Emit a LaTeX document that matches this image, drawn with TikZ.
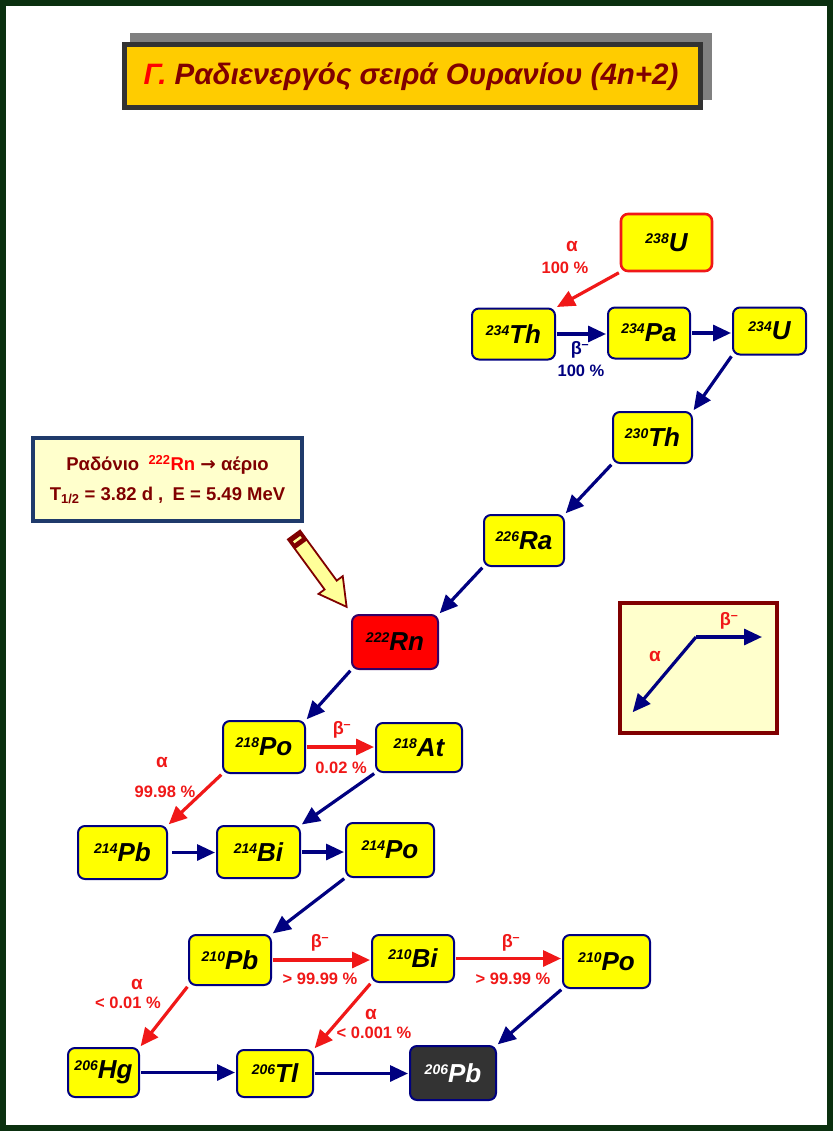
\documentclass[tikz,border=0pt]{standalone}
\usepackage{fontspec}
\setmainfont{Liberation Sans}
\newfontfamily\dejavu{DejaVu Sans}
\usetikzlibrary{arrows.meta}
\definecolor{navy}{HTML}{000080}
\definecolor{myred}{HTML}{F01818}
\definecolor{dred}{HTML}{800000}
\definecolor{framegreen}{HTML}{0B300F}
\definecolor{gold}{HTML}{FFCC00}
\definecolor{cream}{HTML}{FFFFCC}
\definecolor{boxblue}{HTML}{1F3A6B}
\definecolor{ylw}{HTML}{FFFF00}
\definecolor{pbgray}{HTML}{333333}
\definecolor{shadowgray}{HTML}{808080}
\definecolor{rnborder}{HTML}{330066}
\definecolor{pencilfill}{HTML}{FFFF99}
\newcommand\nucl[2]{\raisebox{8pt}{\fontsize{14}{14}\selectfont #1}\fontsize{26}{26}\selectfont #2}
\newcommand\gal{{\fontsize{19}{19}\selectfont α}}
\newcommand\gbe{{\fontsize{18}{18}\selectfont β\textsuperscript{–}}}
\begin{document}
\begin{tikzpicture}[x=1pt,y=-1pt,
  nuc/.style={draw=navy, line width=2pt, fill=ylw, rounded corners=7pt, inner sep=0pt,
    font=\bfseries\itshape, text=black},
  bn/.style={draw=navy, line width=3.2pt, -{Triangle[length=18pt,width=16pt]},
    shorten <=1pt, shorten >=1pt},
  rn/.style={bn, draw=myred},
  lab/.style={font=\bfseries\fontsize{16.5}{17}\selectfont, inner sep=0pt},
  rlab/.style={lab, text=myred},
  blab/.style={lab, text=navy}]
\useasboundingbox (0,0) rectangle (833,1131);
\fill[white] (0,0) rectangle (833,1131);
\draw[framegreen, line width=6pt] (3,3) rectangle (830,1128);

% title
\fill[shadowgray] (130,33) rectangle (712,100);
\node[draw=pbgray, fill=gold, line width=5pt, minimum width=576pt, minimum height=63pt, inner sep=0pt]
  (titlebox) at (412,76.5) {};
\node (title) at (411,77) {\fontsize{29.5}{30}\selectfont\bfseries\itshape\textcolor{red}{Γ.} \textcolor{dred}{Ραδιενεργός σειρά Ουρανίου (4n+2)}};

% info box
\node[draw=boxblue, fill=cream, line width=3.5pt, minimum width=269pt, minimum height=83pt, inner sep=0pt,
  align=center, text=dred, font=\bfseries\fontsize{18.5}{30}\selectfont]
  (info) at (167.5,479.5) {Ραδόνιο\enspace\textcolor{red}{\textsuperscript{222}Rn} {\dejavu\bfseries →} αέριο\\
  T\textsubscript{1/2} = 3.82 d ,\enspace E = 5.49 MeV};

% pencil arrow
\begin{scope}[shift={(294,535)}, x={(0.591pt,-0.807pt)}, y={(-0.807pt,-0.591pt)}]
  \draw[dred, fill=pencilfill, line width=1.8pt, line join=miter]
    (0,7.5) -- (62,7.5) -- (62,15) -- (89,0) -- (62,-15) -- (62,-7.5) -- (0,-7.5) -- cycle;
  \fill[dred] (0,-7.5) -- (12,-7.5) -- (12,7.5) -- (0,7.5) -- cycle;
  \fill[pencilfill] (4.5,-4.5) -- (7,-4.5) -- (7,4.5) -- (4.5,4.5) -- cycle;
\end{scope}

% legend
\node[draw=dred, fill=cream, line width=4pt, minimum width=157pt, minimum height=130pt, inner sep=0pt]
  (legend) at (698.5,668) {};
\coordinate (lc) at (696,637);
\coordinate (la) at (632,713);
\coordinate (lb) at (763,637);
\draw[bn, shorten <=0pt] (lc) -- (lb);
\draw[bn, shorten <=0pt] (lc) -- (la);
\node[rlab] (legA) at (655,656) {\gal};
\node[rlab] (legB) at (729,621) {\gbe};

% nuclides
\node[nuc, draw=myred, line width=2.6pt, minimum width=91pt, minimum height=57pt] (U238) at (666.5,242.5) {\nucl{238}{U}};
\node[nuc, minimum width=83pt, minimum height=51pt] (Th234) at (513.5,334) {\nucl{234}{Th}};
\node[nuc, minimum width=82pt, minimum height=51pt] (Pa234) at (649,333) {\nucl{234}{Pa}};
\node[nuc, minimum width=73pt, minimum height=47pt] (U234) at (769.5,331) {\nucl{234}{U}};
\node[nuc, minimum width=79pt, minimum height=51pt] (Th230) at (652.5,437.5) {\nucl{230}{Th}};
\node[nuc, minimum width=80pt, minimum height=51pt] (Ra226) at (524,540.5) {\nucl{226}{Ra}};
\node[nuc, fill=red, draw=rnborder, minimum width=86pt, minimum height=54pt] (Rn222) at (395,642) {\nucl{222}{Rn}};
\node[nuc, minimum width=82pt, minimum height=52pt] (Po218) at (264,747) {\nucl{218}{Po}};
\node[nuc, minimum width=86pt, minimum height=49pt] (At218) at (419,747.5) {\nucl{218}{At}};
\node[nuc, minimum width=89pt, minimum height=53pt] (Pb214) at (122.5,852.5) {\nucl{214}{Pb}};
\node[nuc, minimum width=83pt, minimum height=52pt] (Bi214) at (258.5,852) {\nucl{214}{Bi}};
\node[nuc, minimum width=88pt, minimum height=54pt] (Po214) at (390,850) {\nucl{214}{Po}};
\node[nuc, minimum width=82pt, minimum height=50pt] (Pb210) at (230,960) {\nucl{210}{Pb}};
\node[nuc, minimum width=82pt, minimum height=47pt] (Bi210) at (413,958.5) {\nucl{210}{Bi}};
\node[nuc, minimum width=87pt, minimum height=53pt] (Po210) at (606.5,961.5) {\nucl{210}{Po}};
\node[nuc, minimum width=71pt, minimum height=49pt] (Hg206) at (103.5,1072.5) {\nucl{206}{Hg}};
\node[nuc, minimum width=76pt, minimum height=47pt] (Tl206) at (275,1073.5) {\nucl{206}{Tl}};
\node[nuc, fill=pbgray, text=white, minimum width=86pt, minimum height=54pt] (Pb206) at (453,1073) {\nucl{206}{Pb}};

% decays
\draw[rn] (U238.south west) -- (Th234.north east);
\node[rlab] (l1a) at (572,246) {\gal};
\node[rlab] (l1b) at (565,268) {100 \%};

\draw[bn] (Th234.east) -- (Th234.east -| Pa234.west);
\node[blab] (l2a) at (580,350) {\gbe};
\node[blab] (l2b) at (581,371) {100 \%};
\draw[bn] (Pa234.east) -- (Pa234.east -| U234.west);
\draw[bn] (U234.south west) -- (Th230.north east);
\draw[bn] (Th230.south west) -- (Ra226.north east);
\draw[bn] (Ra226.south west) -- (Rn222.north east);
\draw[bn] (Rn222.south west) -- (Po218.north east);

\draw[rn] (Po218.east) -- (Po218.east -| At218.west);
\node[rlab] (l3a) at (342,730) {\gbe};
\node[rlab] (l3b) at (341,768) {0.02 \%};
\draw[rn] (Po218.south west) -- (Pb214.north east);
\node[rlab] (l4a) at (162,762) {\gal};
\node[rlab] (l4b) at (165,792) {99.98 \%};
\draw[bn] (At218.south west) -- (Bi214.north east);
\draw[bn, shorten <=4pt] (Pb214.east) -- (Pb214.east -| Bi214.west);
\draw[bn] (Bi214.east) -- (Bi214.east -| Po214.west);
\draw[bn] (Po214.south west) -- (Pb210.north east);

\draw[rn] (Pb210.east) -- (Pb210.east -| Bi210.west);
\node[rlab] (l5a) at (320,943) {\gbe};
\node[rlab] (l5b) at (320,979) {> 99.99 \%};
\draw[rn] (Bi210.east) -- (Bi210.east -| Po210.west);
\node[rlab] (l6a) at (511,943) {\gbe};
\node[rlab] (l6b) at (513,979) {> 99.99 \%};
\draw[rn] (Pb210.south west) -- (Hg206.north east);
\node[rlab] (l7a) at (137,984) {\gal};
\node[rlab] (l7b) at (128,1003) {< 0.01 \%};
\draw[rn] (Bi210.south west) -- (Tl206.north east);
\node[rlab] (l8a) at (371,1014) {\gal};
\node[rlab] (l8b) at (374,1033) {< 0.001 \%};
\draw[bn] (Po210.south west) -- (Pb206.north east);
\draw[bn] (Hg206.east) -- (Hg206.east -| Tl206.west);
\draw[bn] (Tl206.east) -- (Tl206.east -| Pb206.west);
\end{tikzpicture}
\end{document}
